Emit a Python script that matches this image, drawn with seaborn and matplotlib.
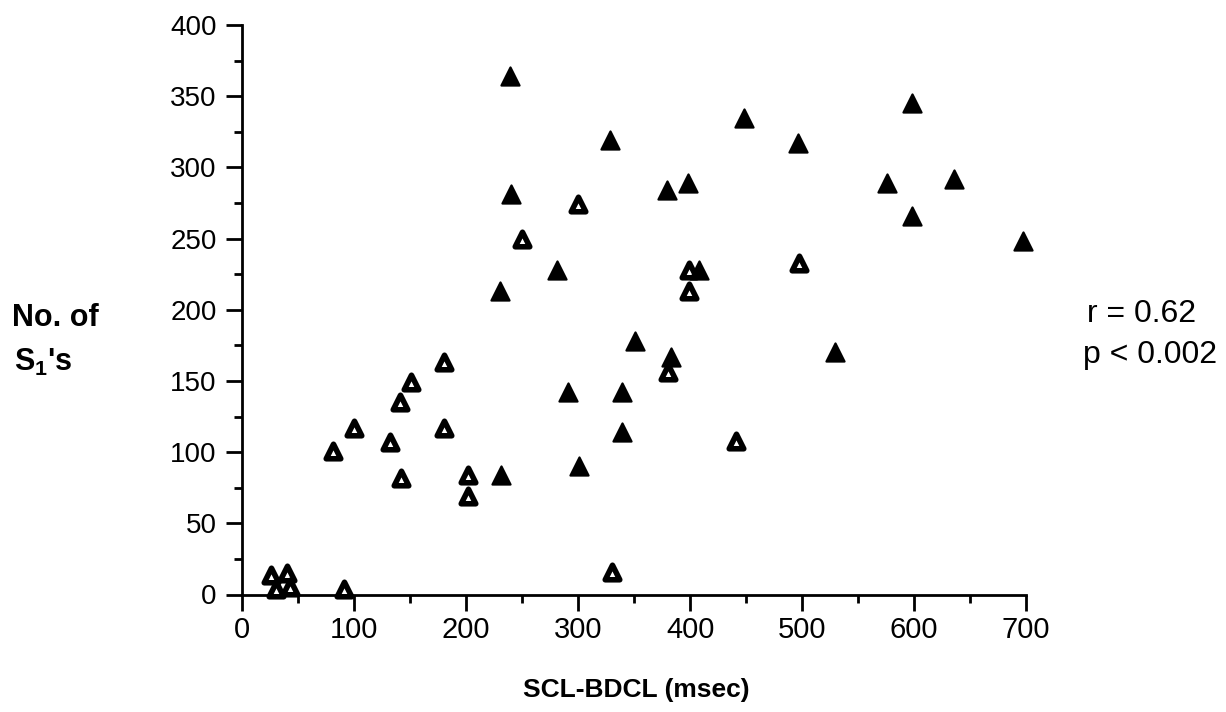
import numpy as np
import pandas as pd
import matplotlib
matplotlib.use("Agg")
import matplotlib.pyplot as plt
from matplotlib.markers import MarkerStyle
from matplotlib.ticker import MultipleLocator
import seaborn as sns

# ---- data ----
filled_x = [239, 328, 240, 379, 398, 281, 230, 408, 448, 598, 496, 576, 636,
            598, 697, 529, 351, 383, 291, 339, 339, 231, 301]
filled_y = [364, 319, 281, 284, 289, 228, 213, 228, 335, 345, 317, 289, 292,
            266, 248, 170, 178, 167, 142, 142, 114, 84, 90]

open_x = [300, 250, 399, 399, 497, 380, 180, 151, 141, 100, 180, 132, 81,
          142, 202, 202, 330, 441, 26, 40, 30, 43, 91]
open_y = [274, 250, 228, 213, 233, 156, 163, 149, 135, 117, 117, 107, 101,
          82, 84, 69, 16, 108, 14, 15, 4, 5, 4]

x_ticks = [0, 100, 200, 300, 400, 500, 600, 700]
y_ticks = [0, 50, 100, 150, 200, 250, 300, 350, 400]
x_label = "SCL-BDCL (msec)"
y_label_1 = "No. of"
y_label_2 = r"S$_{\mathbf{1}}$'s"
stats_1 = "r = 0.62"
stats_2 = "p < 0.002"

sns.set_style("ticks")
plt.rcParams["font.family"] = ["Liberation Sans", "DejaVu Sans"]
plt.rcParams["mathtext.fontset"] = "custom"
plt.rcParams["mathtext.rm"] = "Liberation Sans"
plt.rcParams["mathtext.bf"] = "Liberation Sans:bold"
for k in ["text.color", "axes.labelcolor", "xtick.color", "ytick.color",
          "axes.edgecolor"]:
    plt.rcParams[k] = "black"

W, H = 1226, 712
fig = plt.figure(figsize=(W / 100, H / 100), dpi=100)
x0, x1, y0, y1 = 242.3, 1026.0, 594.5, 25.0
ax = fig.add_axes([x0 / W, 1 - y0 / H, (x1 - x0) / W, (y0 - y1) / H])

df_f = pd.DataFrame({"x": filled_x, "y": filled_y})
df_o = pd.DataFrame({"x": open_x, "y": open_y})

tri = MarkerStyle("^", joinstyle="round")
sns.scatterplot(data=df_o, x="x", y="y", ax=ax, marker=tri, s=110,
                facecolor="white", edgecolor="black", linewidth=4.0,
                joinstyle="round", clip_on=False, zorder=3, legend=False)
sns.scatterplot(data=df_f, x="x", y="y", ax=ax, marker=tri, s=169,
                color="black", edgecolor="black", linewidth=1.6,
                joinstyle="round", clip_on=False, zorder=3, legend=False)

ax.set_xlim(0, 700)
ax.set_ylim(0, 400)
ax.set_xticks(x_ticks)
ax.set_yticks(y_ticks)
ax.set_xticklabels([str(v) for v in x_ticks])
ax.set_yticklabels([str(v) for v in y_ticks])
ax.xaxis.set_minor_locator(MultipleLocator(50))
ax.yaxis.set_minor_locator(MultipleLocator(25))
ax.set_xlabel("")
ax.set_ylabel("")

for side in ["top", "right"]:
    ax.spines[side].set_visible(False)
for side in ["left", "bottom"]:
    ax.spines[side].set_linewidth(2.0)
    ax.spines[side].set_color("black")

ax.tick_params(which="major", direction="out", length=11.5, width=2.0,
               color="black", labelcolor="black")
ax.tick_params(which="minor", direction="out", length=6, width=2.0,
               color="black")
ax.tick_params(axis="y", which="major", pad=7, labelsize=20)
ax.tick_params(axis="x", which="major", pad=4, labelsize=21)
ax.patch.set_alpha(0)

fig.text(636 / W, 1 - 690 / H, x_label, ha="center", va="center",
         fontsize=19, fontweight="bold")
fig.text(12 / W, 1 - 318 / H, y_label_1, ha="left", va="center",
         fontsize=22, fontweight="bold")
fig.text(14 / W, 1 - 362 / H, y_label_2, ha="left", va="center",
         fontsize=22, fontweight="bold")
fig.text(1087 / W, 1 - 314 / H, stats_1, ha="left", va="center", fontsize=23)
fig.text(1083 / W, 1 - 355 / H, stats_2, ha="left", va="center", fontsize=23)

fig.savefig("out.png", dpi=100, facecolor="white")
